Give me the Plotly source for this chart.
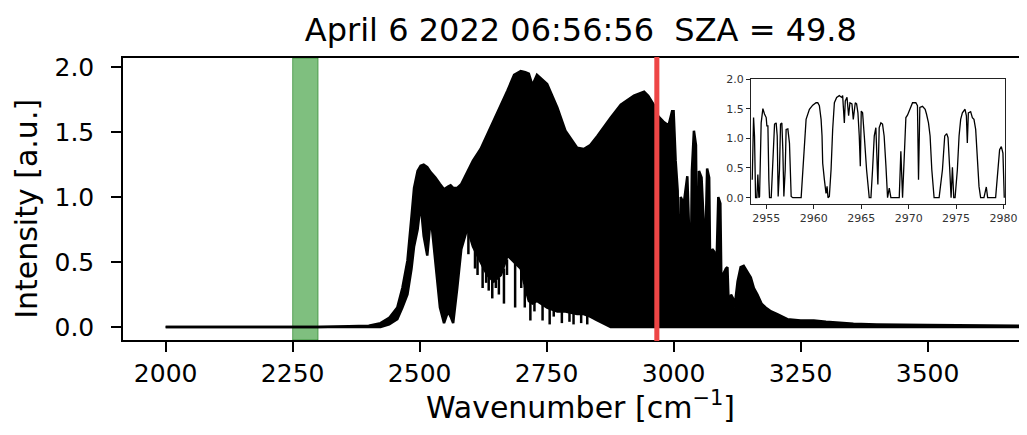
import plotly.graph_objects as go

# main spectrum, drawn as the band between its upper and lower envelope
wn_main = [2000, 2100, 2200, 2300, 2400, 2423, 2440, 2456, 2466, 2476, 2484, 2489, 2496,
           2502, 2508, 2515, 2522, 2531, 2540, 2548, 2556, 2561, 2566, 2574, 2582, 2594,
           2605, 2620, 2633, 2646, 2660, 2673, 2686, 2699, 2708, 2715, 2722, 2731, 2751,
           2771, 2787, 2810, 2823, 2836, 2850, 2866, 2876, 2896, 2922, 2942, 2950, 2961,
           2970, 2980, 2990, 2997, 3000, 3004, 3008, 3011, 3014, 3020, 3024, 3027, 3030,
           3033, 3036, 3040, 3044, 3047, 3050, 3055, 3059, 3063, 3066, 3070, 3073, 3076,
           3080, 3084, 3088, 3092, 3095, 3098, 3103, 3106, 3109, 3113, 3117, 3120, 3126,
           3132, 3138, 3145, 3152, 3158, 3165, 3173, 3181, 3192, 3204, 3224, 3250, 3276,
           3300, 3354, 3400, 3500, 3600, 3695]
upper_main = [0.00, 0.00, 0.00, 0.00, 0.01, 0.03, 0.07, 0.15, 0.30, 0.51, 0.85, 1.07, 1.20,
              1.24, 1.25, 1.23, 1.19, 1.15, 1.10, 1.06, 1.08, 1.09, 1.07, 1.07, 1.10, 1.20,
              1.28, 1.37, 1.48, 1.58, 1.70, 1.82, 1.94, 1.97, 1.96, 1.95, 1.86, 1.94, 1.87,
              1.69, 1.51, 1.38, 1.37, 1.40, 1.47, 1.56, 1.61, 1.71, 1.78, 1.81, 1.78, 1.71,
              1.62, 1.58, 1.55, 1.66, 1.66, 1.28, 1.05, 0.10, 1.00, 0.95, 1.10, 1.16, 0.80,
              0.10, 1.20, 1.51, 1.40, 0.10, 1.20, 1.15, 0.82, 0.70, 1.22, 1.15, 0.08, 0.60,
              0.58, 0.40, 1.00, 0.95, 0.05, 0.41, 0.45, 0.46, 0.10, 0.25, 0.22, 0.15, 0.35,
              0.46, 0.47, 0.43, 0.38, 0.30, 0.25, 0.18, 0.15, 0.12, 0.10, 0.06, 0.05, 0.05,
              0.04, 0.025, 0.02, 0.015, 0.01, 0.01]
lower_main = [0.00, 0.00, 0.00, 0.00, 0.00, 0.00, 0.02, 0.06, 0.15, 0.25, 0.45, 0.62, 0.75,
              0.95, 0.70, 0.55, 0.85, 0.50, 0.15, 0.03, 0.12, 0.08, 0.03, 0.30, 0.60, 0.76,
              0.62, 0.50, 0.40, 0.35, 0.40, 0.55, 0.50, 0.45, 0.30, 0.20, 0.18, 0.20, 0.15,
              0.12, 0.12, 0.10, 0.10, 0.08, 0.05, 0.02] + [0.0] * 64

# deep single absorption lines reaching below the lower envelope
deep_wn = [2596, 2609, 2614, 2624, 2631, 2636, 2643, 2650, 2656, 2666, 2672, 2688, 2700,
           2707, 2718, 2726, 2742, 2756, 2764, 2780, 2795, 2803, 2818, 2830]
deep_top = [0.76, 0.60, 0.57, 0.48, 0.42, 0.40, 0.36, 0.36, 0.38, 0.45, 0.52, 0.50, 0.45,
            0.32, 0.20, 0.19, 0.17, 0.14, 0.13, 0.12, 0.11, 0.10, 0.10, 0.09]
deep_bottom = [0.56, 0.45, 0.40, 0.30, 0.34, 0.28, 0.22, 0.30, 0.25, 0.18, 0.40, 0.15, 0.30,
               0.15, 0.05, 0.12, 0.05, 0.02, 0.08, 0.03, 0.04, 0.02, 0.03, 0.02]

# zoomed window around the target band
wn_zoom = [2953.53, 2953.67, 2953.77, 2953.88, 2954.02, 2954.12, 2954.23, 2954.30, 2954.47,
           2954.65, 2954.82, 2955.00, 2955.07, 2955.18, 2955.28, 2955.35, 2955.53, 2955.70,
           2955.88, 2956.05, 2956.16, 2956.26, 2956.40, 2956.51, 2956.65, 2956.75, 2956.86,
           2957.00, 2957.10, 2957.28, 2957.45, 2957.63, 2957.80, 2958.68, 2959.03, 2959.20,
           2959.55, 2959.90, 2960.25, 2960.43, 2960.60, 2960.78, 2960.88, 2960.95, 2961.13,
           2961.30, 2961.41, 2961.51, 2961.65, 2961.83, 2962.00, 2962.18, 2962.42, 2962.70,
           2962.95, 2963.05, 2963.23, 2963.33, 2963.51, 2963.68, 2963.82, 2964.03, 2964.17,
           2964.38, 2964.52, 2964.66, 2964.80, 2964.91, 2965.01, 2965.15, 2965.33, 2965.57,
           2965.85, 2966.03, 2966.20, 2966.38, 2966.55, 2966.65, 2966.76, 2966.90, 2967.08,
           2967.25, 2967.42, 2967.61, 2967.78, 2967.96, 2968.13, 2969.01, 2969.18, 2969.36,
           2969.53, 2969.71, 2969.88, 2970.23, 2970.41, 2970.76, 2970.93, 2971.04, 2971.18,
           2971.46, 2971.74, 2971.88, 2972.09, 2972.26, 2972.44, 2972.68, 2973.21, 2973.56,
           2973.80, 2974.01, 2974.15, 2974.33, 2974.47, 2974.61, 2974.75, 2974.89, 2975.13,
           2975.31, 2975.48, 2975.66, 2975.94, 2976.08, 2976.18, 2976.29, 2976.53, 2976.71,
           2976.88, 2977.06, 2977.23, 2977.41, 2977.58, 2977.93, 2978.18, 2978.32, 2979.16,
           2979.40, 2979.58, 2979.76, 2979.93, 2980.07]
int_zoom = [0.30, 1.35, 1.04, 0.00, 0.00, 0.39, 0.00, 0.02, 1.26,
            1.50, 1.41, 1.35, 1.21, 1.21, 0.30, 0.00, 0.00, 0.75,
            1.24, 1.26, 1.04, 0.02, 0.47, 1.24, 1.26, 0.81, 0.02,
            0.47, 1.15, 1.16, 0.92, 0.02, 0.00, 0.00, 1.04, 1.32,
            1.49, 1.56, 1.60, 1.60, 1.55, 1.32, 1.04, 0.58, 0.30,
            0.07, 0.19, 0.00, 0.02, 0.47, 1.15, 1.60, 1.69, 1.72,
            1.69, 1.72, 1.26, 1.63, 1.69, 1.38, 1.60, 1.58, 1.32,
            1.60, 1.58, 1.43, 1.04, 0.53, 1.46, 1.43, 1.04, 0.47,
            0.00, 0.00, 0.47, 1.04, 1.18, 0.47, 0.22, 1.18, 1.26,
            1.24, 1.04, 0.53, 0.00, 0.16, 0.00, 0.00, 0.78, 0.00,
            0.81, 1.35, 1.39, 1.52, 1.60, 1.60, 1.55, 0.30, 1.52,
            1.54, 1.49, 1.41, 1.26, 1.04, 0.47, 0.00, 0.00, 0.47,
            1.04, 1.08, 1.01, 0.47, 0.00, 0.51, 0.00, 0.00, 0.47,
            1.04, 1.32, 1.43, 1.49, 1.38, 0.92, 1.43, 1.45, 1.35,
            1.32, 1.15, 0.75, 0.19, 0.00, 0.00, 0.18, 0.00, 0.00,
            0.47, 0.81, 0.86, 0.75, 0.00]

window_band = [2250, 2300]
target_band = [2964, 2970]

fig = go.Figure()

fig.add_trace(go.Scatter(
    x=wn_main, y=lower_main, mode="lines",
    line=dict(color="black", width=2.5), showlegend=False,
))
fig.add_trace(go.Scatter(
    x=wn_main, y=upper_main, mode="lines", fill="tonexty", fillcolor="black",
    line=dict(color="black", width=2.5), showlegend=False,
))

deep_x, deep_y = [], []
for w, top, bot in zip(deep_wn, deep_top, deep_bottom):
    deep_x += [w, w, None]
    deep_y += [top, bot, None]
fig.add_trace(go.Scatter(
    x=deep_x, y=deep_y, mode="lines",
    line=dict(color="black", width=2.5), showlegend=False,
))

fig.add_trace(go.Scatter(
    x=wn_zoom, y=int_zoom, mode="lines", xaxis="x2", yaxis="y2",
    line=dict(color="black", width=1.3), showlegend=False,
))

fig.add_vrect(x0=window_band[0], x1=window_band[1], fillcolor="rgba(0,128,0,0.5)",
              line=dict(color="rgba(0,110,0,0.5)", width=1), layer="below")
fig.add_vrect(x0=target_band[0], x1=target_band[1], fillcolor="#ee4646",
              line=dict(color="#ee4646", width=2), layer="above")
fig.add_shape(type="rect", xref="x2", yref="y2 domain", x0=target_band[0], x1=target_band[1],
              y0=0, y1=1, fillcolor="rgba(255,0,0,0.5)", line=dict(width=0), layer="below")

# axis titles as annotations so they can sit exactly where the original has them
fig.add_annotation(text="Wavenumber [cm<sup>−1</sup>]", xref="paper", yref="paper",
                   x=0.511, y=-0.232, xanchor="center", yanchor="middle",
                   showarrow=False, font=dict(size=30))
fig.add_annotation(text="Intensity [a.u.]", xref="paper", yref="paper", textangle=-90,
                   x=0, xshift=-96, y=0.465, xanchor="center", yanchor="middle",
                   showarrow=False, font=dict(size=30))

axis_style = dict(showline=True, linecolor="black", linewidth=1.5, ticks="outside",
                  ticklen=10, tickwidth=1.5, tickcolor="black", showgrid=False, zeroline=False,
                  automargin=False)
inset_style = dict(showline=True, linecolor="#222", linewidth=1, mirror=True, ticks="outside",
                   ticklen=4, tickwidth=1, tickcolor="#222", showgrid=False, zeroline=False,
                   automargin=False, tickfont=dict(size=11, color="#333"))

# the page sits 8px in from the window corner, so the figure is sized to fit inside it
fig.update_layout(
    width=1011, height=419,
    margin=dict(l=115, r=0, t=50, b=87),
    paper_bgcolor="white", plot_bgcolor="white",
    font=dict(family="DejaVu Sans", color="black"),
    title=dict(text="April 6 2022 06:56:56  SZA = 49.8", xref="paper", x=0.511,
               xanchor="center", yref="container", y=1 - 22 / 419, yanchor="middle",
               font=dict(size=32), automargin=False),
    xaxis=dict(axis_style, range=[1916, 3680], mirror=True,
               tickvals=[2000, 2250, 2500, 2750, 3000, 3250, 3500],
               tickfont=dict(size=25)),
    yaxis=dict(axis_style, range=[-0.1, 2.07], tickvals=[0, 0.5, 1.0, 1.5, 2.0],
               tickformat=".1f", tickfont=dict(size=25), ticklabelstandoff=12),
    xaxis2=dict(inset_style, domain=[0.7009, 0.9844], anchor="y2", range=[2953.4, 2980.15],
                tickvals=[2955, 2960, 2965, 2970, 2975, 2980]),
    yaxis2=dict(inset_style, domain=[0.4823, 0.9255], anchor="x2", range=[-0.107, 2.0],
                tickvals=[0, 0.5, 1.0, 1.5, 2.0], tickformat=".1f"),
)

fig.write_html("out.html")
